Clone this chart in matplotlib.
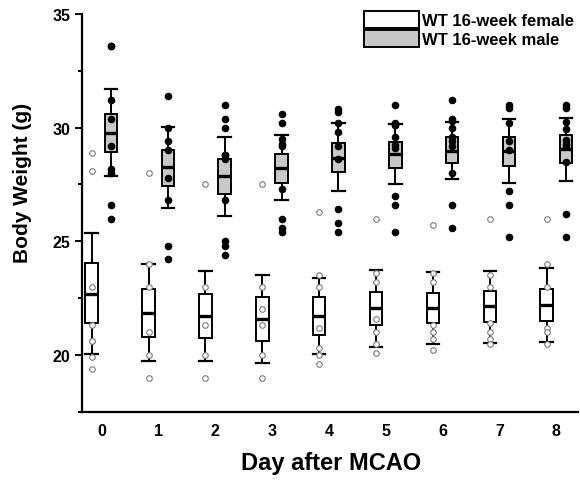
import numpy as np
import matplotlib.pyplot as plt
from matplotlib.patches import Patch
from matplotlib.ticker import MultipleLocator

plt.rcParams['font.family'] = ['Liberation Sans', 'DejaVu Sans']
plt.rcParams['font.weight'] = 'bold'

days = list(range(9))
groups = ['WT 16-week female', 'WT 16-week male']

# box statistics
female_hi = [25.37, 24.00, 23.68, 23.50, 23.39, 23.75, 23.66, 23.71, 23.81]
female_q3 = [24.03, 22.92, 22.67, 22.54, 22.55, 22.77, 22.74, 22.80, 22.89]
female_med = [22.70, 21.85, 21.70, 21.60, 21.72, 22.05, 22.07, 22.14, 22.20]
female_q1 = [21.39, 20.79, 20.73, 20.60, 20.88, 21.32, 21.39, 21.45, 21.51]
female_lo = [20.04, 19.72, 19.72, 19.63, 20.04, 20.34, 20.48, 20.53, 20.57]

male_hi = [31.70, 30.03, 29.60, 29.66, 30.19, 30.15, 30.27, 30.38, 30.44]
male_q3 = [30.62, 29.03, 28.61, 28.84, 29.33, 29.38, 29.57, 29.57, 29.68]
male_med = [29.78, 28.26, 27.86, 28.21, 28.68, 28.82, 28.99, 28.96, 29.04]
male_q1 = [28.93, 27.43, 27.06, 27.58, 28.03, 28.21, 28.43, 28.33, 28.45]
male_lo = [27.89, 26.47, 26.10, 26.82, 27.21, 27.50, 27.74, 27.57, 27.67]

# individual animals
female_points = [
    [28.9, 28.1, 23.0, 21.3, 20.6, 20.6, 19.9, 19.4],
    [28.0, 24.0, 23.0, 21.0, 20.0, 19.0],
    [27.5, 23.0, 21.3, 20.0, 19.0],
    [27.5, 23.0, 22.0, 21.3, 20.0, 19.0],
    [26.3, 23.5, 23.0, 21.2, 20.3, 20.0, 19.6],
    [26.0, 23.6, 23.2, 21.6, 21.0, 20.5, 20.1],
    [25.7, 23.6, 23.2, 21.3, 21.0, 20.7, 20.2],
    [26.0, 23.5, 23.0, 21.4, 21.0, 20.7, 20.5],
    [26.0, 24.0, 23.0, 21.2, 21.0, 20.5],
]
male_points = [
    [33.6, 33.6, 31.2, 30.4, 29.2, 28.2, 28.0, 26.6, 26.0],
    [31.4, 30.0, 29.4, 29.0, 27.8, 26.8, 24.8, 24.2],
    [31.0, 30.4, 30.0, 28.8, 28.8, 28.6, 26.8, 25.0, 24.8, 24.4],
    [30.6, 30.2, 29.5, 29.3, 29.2, 27.3, 26.0, 25.6, 25.4],
    [30.8, 30.7, 30.2, 29.8, 29.2, 28.6, 26.4, 25.8, 25.4],
    [31.0, 30.2, 30.1, 30.1, 29.6, 29.25, 29.1, 27.0, 26.6, 25.4],
    [31.2, 30.4, 30.3, 30.0, 29.6, 29.4, 29.2, 28.0, 26.6, 25.6],
    [31.0, 30.85, 30.2, 29.4, 29.0, 27.2, 26.6, 25.2],
    [31.0, 30.85, 30.25, 29.95, 29.45, 29.3, 29.2, 28.5, 26.2, 25.2],
]

fig = plt.figure(figsize=(5.8, 4.85), dpi=100)
ax = fig.add_axes([0.1414, 0.149, 0.855, 0.82])

off = 0.17
w = 0.22
grey = '#c8c8c8'


def stats(lo, q1, med, q3, hi):
    return [dict(whislo=a, q1=b, med=c, q3=d, whishi=e, fliers=[])
            for a, b, c, d, e in zip(lo, q1, med, q3, hi)]


for st, pos, fc in [
    (stats(female_lo, female_q1, female_med, female_q3, female_hi), np.array(days) - off, 'white'),
    (stats(male_lo, male_q1, male_med, male_q3, male_hi), np.array(days) + off, grey),
]:
    ax.bxp(st, positions=pos, widths=w, capwidths=w, patch_artist=True,
           showfliers=False, manage_ticks=False,
           boxprops=dict(facecolor=fc, edgecolor='black', linewidth=1.4),
           whiskerprops=dict(color='black', linewidth=1.4),
           capprops=dict(color='black', linewidth=1.6),
           medianprops=dict(color='black', linewidth=2.4))

for d in days:
    fy = female_points[d]
    ax.scatter(np.full(len(fy), d - off), fy, s=16, facecolors='white',
               edgecolors='#7a7a7a', linewidths=0.8, zorder=4)
    my = male_points[d]
    ax.scatter(np.full(len(my), d + off), my, s=20, color='black', zorder=4)

ax.set_xlim(-0.34, 8.38)
ax.set_ylim(17.5, 35)
ax.set_xticks(days)
ax.set_xticklabels([str(d) for d in days])
ax.yaxis.set_major_locator(MultipleLocator(5))
ax.yaxis.set_minor_locator(MultipleLocator(2.5))
ax.tick_params(axis='x', length=0, labelsize=11.5, pad=8)
ax.tick_params(axis='y', which='major', length=5, width=1.4, labelsize=11.5)
ax.tick_params(axis='y', which='minor', length=3, width=1.4)
for lab in ax.get_xticklabels() + ax.get_yticklabels():
    lab.set_fontweight('bold')

for s in ['top', 'right']:
    ax.spines[s].set_visible(False)
for s in ['left', 'bottom']:
    ax.spines[s].set_linewidth(1.6)

ax.set_xlabel('Day after MCAO', fontsize=17, fontweight='bold')
ax.set_ylabel('Body Weight (g)', fontsize=15, fontweight='bold')
ax.xaxis.set_label_coords(0.502, -0.098)
ax.yaxis.set_label_coords(-0.10, 0.578)

handles = [Patch(facecolor='white', edgecolor='black', linewidth=1.4),
           Patch(facecolor=grey, edgecolor='black', linewidth=1.4)]
fig.legend(handles, groups, loc='upper left', bbox_to_anchor=(0.627, 0.975),
           frameon=False, borderpad=0, borderaxespad=0, handlelength=3.3,
           handleheight=1.15, handletextpad=0.2, labelspacing=0.12,
           prop=dict(size=12, weight='bold'))

fig.savefig('out.png', dpi=100)
